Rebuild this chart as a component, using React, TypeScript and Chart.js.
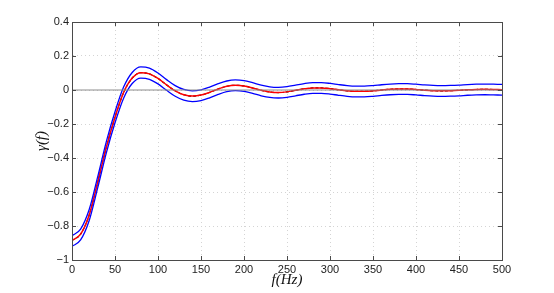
import React, { useEffect, useRef } from "react";
import { Chart, registerables } from "chart.js";

Chart.register(...registerables);

const freq = [0,10,20,30,40,50,60,70,80,90,100,110,120,130,140,150,160,170,180,190,200,210,220,230,240,250,260,270,280,290,300,310,320,330,340,350,360,370,380,390,400,410,420,430,440,450,460,470,480,490,500];

const center = [-0.885,-0.848,-0.735,-0.54,-0.335,-0.16,-0.015,0.07,0.102,0.095,0.068,0.03,-0.005,-0.028,-0.036,-0.03,-0.014,0.006,0.022,0.028,0.024,0.012,-0.002,-0.012,-0.015,-0.011,-0.002,0.007,0.012,0.012,0.008,0.001,-0.005,-0.008,-0.008,-0.005,0.0,0.004,0.006,0.006,0.003,-0.001,-0.004,-0.005,-0.004,-0.002,0.001,0.003,0.004,0.003,0.002];

const upper = [-0.857,-0.818,-0.703,-0.508,-0.302,-0.128,0.017,0.103,0.136,0.129,0.1,0.061,0.026,0.003,-0.005,0.001,0.017,0.037,0.053,0.059,0.055,0.043,0.029,0.019,0.016,0.02,0.029,0.038,0.043,0.043,0.039,0.032,0.026,0.023,0.023,0.026,0.031,0.035,0.037,0.037,0.034,0.03,0.027,0.026,0.027,0.029,0.032,0.034,0.035,0.034,0.033];

const lower = [-0.92,-0.882,-0.768,-0.573,-0.368,-0.193,-0.048,0.038,0.07,0.063,0.036,-0.002,-0.037,-0.06,-0.068,-0.062,-0.046,-0.026,-0.01,-0.004,-0.008,-0.02,-0.034,-0.044,-0.047,-0.043,-0.034,-0.025,-0.02,-0.02,-0.024,-0.031,-0.037,-0.04,-0.04,-0.037,-0.032,-0.028,-0.026,-0.026,-0.029,-0.033,-0.036,-0.037,-0.036,-0.034,-0.031,-0.029,-0.028,-0.029,-0.03];

const zeroLineX = [0, 500];
const zeroLineY = [0, 0];

const xTitle = "f(Hz)";
const yTitle = "γ(f)";

const toPts = (xs: number[], ys: number[]) => xs.map((x, i) => ({ x, y: ys[i] }));

const fmt = (v: number) => {
  const s = String(Math.round(v * 10) / 10);
  return s.startsWith("-") ? "\u2212" + s.slice(1) : s;
};

const boxPlugin = {
  id: "boxPlugin",
  afterDraw(chart: any) {
    const { ctx, chartArea: a, scales } = chart;
    ctx.save();
    ctx.strokeStyle = "#4a4a4a";
    ctx.lineWidth = 1;
    ctx.strokeRect(a.left + 0.5, a.top + 0.5, a.right - a.left, a.bottom - a.top);
    ctx.beginPath();
    const tl = 4;
    scales.x.ticks.forEach((t: any) => {
      const px = Math.round(scales.x.getPixelForValue(t.value)) + 0.5;
      ctx.moveTo(px, a.bottom);
      ctx.lineTo(px, a.bottom - tl);
      ctx.moveTo(px, a.top);
      ctx.lineTo(px, a.top + tl);
    });
    scales.y.ticks.forEach((t: any) => {
      const py = Math.round(scales.y.getPixelForValue(t.value)) + 0.5;
      ctx.moveTo(a.left, py);
      ctx.lineTo(a.left + tl, py);
      ctx.moveTo(a.right, py);
      ctx.lineTo(a.right - tl, py);
    });
    ctx.stroke();

    ctx.fillStyle = "#111";
    ctx.font = 'italic 15px "Liberation Serif"';
    ctx.textAlign = "center";
    ctx.textBaseline = "middle";
    ctx.fillText(xTitle, (a.left + a.right) / 2, 280);
    ctx.save();
    ctx.translate(42, (a.top + a.bottom) / 2);
    ctx.rotate(-Math.PI / 2);
    ctx.fillText(yTitle, 0, 0);
    ctx.restore();
    ctx.restore();
  },
};

export default function App() {
  const ref = useRef<HTMLCanvasElement>(null);
  useEffect(() => {
    if (!ref.current) return;
    const chart = new Chart(ref.current, {
      type: "line",
      data: {
        datasets: [
          { data: toPts(zeroLineX, zeroLineY), borderColor: "#8c8c8c", borderWidth: 1, pointRadius: 0 },
          { data: toPts(freq, upper), borderColor: "#0000ff", borderWidth: 1.3, pointRadius: 0, cubicInterpolationMode: "monotone" },
          { data: toPts(freq, lower), borderColor: "#0000ff", borderWidth: 1.3, pointRadius: 0, cubicInterpolationMode: "monotone" },
          { data: toPts(freq, center), borderColor: "#ff0000", borderWidth: 1.5, pointRadius: 0, cubicInterpolationMode: "monotone" },
          { data: toPts(freq, center), borderColor: "#000000", borderWidth: 1.2, borderDash: [3, 2], pointRadius: 0, cubicInterpolationMode: "monotone" },
        ],
      },
      options: {
        animation: false,
        responsive: false,
        maintainAspectRatio: false,
        layout: { padding: { left: 0, top: 22, right: 52, bottom: 0 } },
        plugins: { legend: { display: false }, tooltip: { enabled: false } },
        scales: {
          x: {
            type: "linear",
            min: 0,
            max: 500,
            afterFit: (s: any) => { s.height = 33; },
            ticks: { stepSize: 50, padding: 3, color: "#222", font: { family: "Liberation Sans", size: 11 }, maxRotation: 0 },
            grid: { color: "#d4d4d4", drawTicks: false, lineWidth: 1 },
            border: { display: true, color: "#4a4a4a", dash: [1, 3] },
          },
          y: {
            type: "linear",
            min: -1,
            max: 0.4,
            afterFit: (s: any) => { s.width = 72; },
            ticks: { stepSize: 0.2, padding: 3, color: "#222", font: { family: "Liberation Sans", size: 11 }, callback: (v: any) => fmt(Number(v)) },
            grid: { color: "#d4d4d4", drawTicks: false, lineWidth: 1 },
            border: { display: true, color: "#4a4a4a", dash: [1, 3] },
          },
        },
      },
      plugins: [boxPlugin],
    });
    return () => chart.destroy();
  }, []);
  return (
    <div style={{ position: "fixed", left: 0, top: 0, width: 554, height: 293, background: "#fff" }}>
      <canvas ref={ref} width={554} height={293} />
    </div>
  );
}
